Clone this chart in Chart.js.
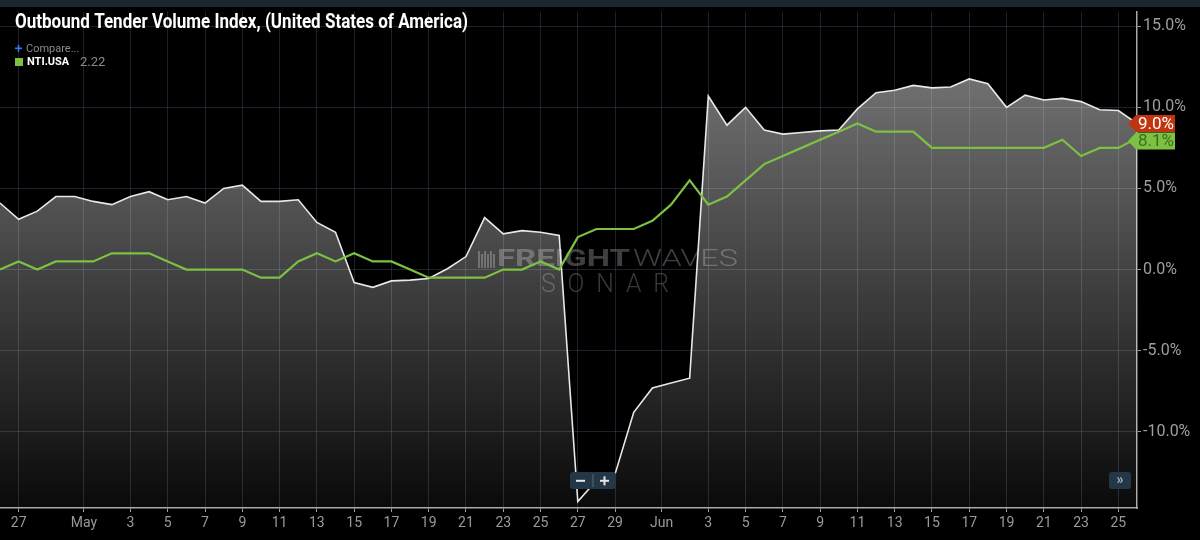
<!DOCTYPE html>
<html>
<head>
<meta charset="utf-8">
<script src="https://cdn.jsdelivr.net/npm/chart.js@4"></script>
<style>
  html, body { margin: 0; padding: 0; background: #000; }
  #wrap { width: 1200px; height: 540px; position: relative; }
</style>
</head>
<body>
<div id="wrap"><canvas id="otviChart"></canvas></div>
<script>
// Valeurs (un point par jour, du 26 avril au 26 juin)
const otviValues = [4.1, 3.1, 3.6, 4.5, 4.5, 4.2, 4.0, 4.5, 4.8, 4.3,
    4.5, 4.1, 5.0, 5.2, 4.2, 4.2, 4.3, 2.9, 2.3, -0.8,
    -1.1, -0.7, -0.65, -0.55, 0.05, 0.8, 3.2, 2.2, 2.4, 2.3,
    2.1, -14.3, -13.0, -12.6, -8.8, -7.3, -7.0, -6.7, 10.7, 8.9,
    10.0, 8.6, 8.35, 8.45, 8.55, 8.6, 9.9, 10.9, 11.05, 11.35,
    11.2, 11.25, 11.75, 11.45, 10.0, 10.75, 10.45, 10.55, 10.35, 9.85,
    9.8, 9.0];
const ntiValues = [0, 0.5, 0, 0.5, 0.5, 0.5, 1, 1, 1, 0.5,
    0, 0, 0, 0, -0.5, -0.5, 0.5, 1, 0.5, 1,
    0.5, 0.5, 0, -0.5, -0.5, -0.5, -0.5, 0, 0, 0.5,
    0, 2, 2.5, 2.5, 2.5, 3, 4, 5.5, 4, 4.5,
    5.5, 6.5, 7, 7.5, 8, 8.5, 9, 8.5, 8.5, 8.5,
    7.5, 7.5, 7.5, 7.5, 7.5, 7.5, 7.5, 8, 7, 7.5,
    7.5, 8.1];

// Graduations
const yTicks = [-10, -5, 0, 5, 10, 15];
const xTickPos = [1, 4.5, 7, 9, 11, 13, 15, 17, 19, 21, 23, 25, 27, 29, 31, 33,
    35.5, 38, 40, 42, 44, 46, 48, 50, 52, 54, 56, 58, 60];
const xTickLabels = ['27', 'May', '3', '5', '7', '9', '11', '13', '15', '17', '19', '21', '23', '25', '27', '29',
    'Jun', '3', '5', '7', '9', '11', '13', '15', '17', '19', '21', '23', '25'];

const chartTitle = 'Outbound Tender Volume Index, (United States of America)';
const legendName = 'NTI.USA';
const legendValue = '2.22';

const GREEN = '#7dc142';
const RED = '#c2330f';
const GRID = 'rgba(70,95,120,0.36)';

function toPoints(values) {
    return values.map((v, i) => ({ x: i, y: v }));
}

// texte étiré pour tenir dans une largeur donnée
function fitText(ctx, text, x, y, width) {
    const w = ctx.measureText(text).width;
    ctx.save();
    ctx.translate(x, y);
    ctx.scale(width / w, 1);
    ctx.fillText(text, 0, 0);
    ctx.restore();
}

// Fond, bandeau du haut, filigrane et habillage
const backdropPlugin = {
    id: 'backdrop',
    beforeDraw(chart) {
        const ctx = chart.ctx;
        ctx.save();
        ctx.fillStyle = '#000';
        ctx.fillRect(0, 0, chart.width, chart.height);
        ctx.fillStyle = '#1b2631';
        ctx.fillRect(0, 0, chart.width, 7);
        ctx.restore();
    },
    beforeDatasetsDraw(chart) {
        const ctx = chart.ctx;
        ctx.save();
        ctx.fillStyle = 'rgba(125,125,125,0.5)';
        // petit logo
        for (let i = 0; i < 6; i++) {
            ctx.fillRect(478 + i * 3, 251 + (i % 2) * 3, 2, 17 - (i % 2) * 3);
        }
        ctx.textBaseline = 'middle';
        ctx.textAlign = 'left';
        ctx.font = 'bold 23px Roboto';
        fitText(ctx, 'FREIGHT', 497, 260, 133);
        ctx.font = '300 23px Roboto';
        fitText(ctx, 'WAVES', 633, 260, 105);
        ctx.fillStyle = 'rgba(125,125,125,0.45)';
        ctx.font = '300 25px Roboto';
        ctx.letterSpacing = '12px';
        fitText(ctx, 'SONAR', 541, 286, 140);
        ctx.restore();
    },
    afterDraw(chart) {
        const ctx = chart.ctx;
        const y = chart.scales.y;
        ctx.save();

        // Titre
        ctx.fillStyle = '#fff';
        ctx.font = 'bold 21px Roboto';
        ctx.textBaseline = 'alphabetic';
        ctx.textAlign = 'left';
        fitText(ctx, chartTitle, 15, 28, 453);

        // Légende
        ctx.fillStyle = '#2f7fe6';
        ctx.fillRect(15, 47.5, 7, 1.6);
        ctx.fillRect(17.7, 44.8, 1.6, 7);
        ctx.fillStyle = '#8a8a8a';
        ctx.font = '11px Roboto';
        ctx.textBaseline = 'middle';
        ctx.fillText('Compare...', 26, 49);
        ctx.fillStyle = GREEN;
        ctx.fillRect(15, 58, 8, 8);
        ctx.fillStyle = '#fff';
        ctx.font = 'bold 11px Roboto';
        ctx.fillText(legendName, 27, 62.5);
        ctx.fillStyle = '#8a8a8a';
        ctx.font = '13px Roboto';
        ctx.fillText(legendValue, 80, 62.5);

        // Boutons de zoom
        ctx.fillStyle = '#233747';
        roundRect(ctx, 570, 472, 46, 17, 3);
        roundRect(ctx, 1109, 472, 22, 17, 3);
        ctx.fillStyle = 'rgba(255,255,255,0.25)';
        ctx.fillRect(592.5, 474, 1, 13);
        ctx.fillStyle = '#e6e6e6';
        ctx.fillRect(576, 479.8, 9, 2);
        ctx.fillRect(600, 479.8, 9, 2);
        ctx.fillRect(603.5, 476.3, 2, 9);
        ctx.fillStyle = '#a8b4bf';
        ctx.font = 'bold 14px Roboto';
        ctx.textAlign = 'center';
        ctx.fillText('\u00bb', 1120, 480);

        // Étiquettes de dernière valeur
        const lastOtvi = otviValues[otviValues.length - 1];
        const lastNti = ntiValues[ntiValues.length - 1];
        const ry = y.getPixelForValue(lastOtvi);
        const gy = Math.max(y.getPixelForValue(lastNti), ry + 17.5);
        drawTag(ctx, chart.chartArea.right, ry, RED, '#fff', lastOtvi.toFixed(1) + '%');
        drawTag(ctx, chart.chartArea.right, gy, GREEN, '#3f6d1f', lastNti.toFixed(1) + '%');
        ctx.restore();
    }
};

function roundRect(ctx, x, y, w, h, r) {
    ctx.beginPath();
    ctx.moveTo(x + r, y);
    ctx.arcTo(x + w, y, x + w, y + h, r);
    ctx.arcTo(x + w, y + h, x, y + h, r);
    ctx.arcTo(x, y + h, x, y, r);
    ctx.arcTo(x, y, x + w, y, r);
    ctx.closePath();
    ctx.fill();
}

function drawTag(ctx, x, cy, bg, fg, text) {
    const h = 17;
    ctx.fillStyle = bg;
    ctx.beginPath();
    ctx.moveTo(x - 9, cy);
    ctx.lineTo(x - 1, cy - h / 2);
    ctx.lineTo(x + 38, cy - h / 2);
    ctx.lineTo(x + 38, cy + h / 2);
    ctx.lineTo(x - 1, cy + h / 2);
    ctx.closePath();
    ctx.fill();
    ctx.fillStyle = fg;
    ctx.font = '17px Roboto';
    ctx.textAlign = 'left';
    ctx.textBaseline = 'middle';
    ctx.fillText(text, x + 1, cy + 1);
}

function areaGradient(context) {
    const area = context.chart.chartArea;
    if (!area) return 'rgba(255,255,255,0.3)';
    const g = context.chart.ctx.createLinearGradient(0, area.top, 0, area.bottom);
    g.addColorStop(0, 'rgba(255,255,255,0.50)');
    g.addColorStop(1, 'rgba(255,255,255,0.04)');
    return g;
}

const ctx = document.getElementById('otviChart').getContext('2d');
new Chart(ctx, {
    type: 'line',
    data: {
        datasets: [{
            label: legendName,
            data: toPoints(ntiValues),
            borderColor: GREEN,
            borderWidth: 2.2,
            pointRadius: 0,
            tension: 0,
            fill: false
        }, {
            label: 'OTVI.USA',
            data: toPoints(otviValues),
            borderColor: '#e8e8e8',
            borderWidth: 1.6,
            backgroundColor: areaGradient,
            pointRadius: 0,
            tension: 0,
            fill: 'start'
        }]
    },
    options: {
        responsive: true,
        maintainAspectRatio: false,
        animation: false,
        layout: { padding: { top: 7, left: 0, right: 0, bottom: 0 } },
        plugins: {
            legend: { display: false },
            tooltip: { enabled: false }
        },
        scales: {
            x: {
                type: 'linear',
                min: 0,
                max: 61,
                afterBuildTicks: scale => {
                    scale.ticks = xTickPos.map(v => ({ value: v }));
                },
                afterFit: scale => { scale.height = 32; },
                ticks: {
                    color: '#9a9a9a',
                    font: { family: 'Roboto', size: 14 },
                    padding: 3,
                    maxRotation: 0,
                    autoSkip: false,
                    callback: value => xTickLabels[xTickPos.indexOf(value)]
                },
                grid: {
                    color: GRID,
                    tickColor: '#9a9a9a',
                    tickLength: 4
                },
                border: { color: '#a8a8a8', width: 1.5 }
            },
            y: {
                position: 'right',
                min: -14.7,
                max: 15.9,
                afterBuildTicks: scale => {
                    scale.ticks = yTicks.map(v => ({ value: v }));
                },
                afterFit: scale => { scale.width = 63; },
                ticks: {
                    color: '#9e9e9e',
                    font: { family: 'Roboto', size: 16 },
                    padding: 2,
                    callback: value => value.toFixed(1) + '%'
                },
                grid: {
                    color: GRID,
                    tickColor: '#9a9a9a',
                    tickLength: 4
                },
                border: { color: '#a8a8a8', width: 1.5 }
            }
        }
    },
    plugins: [backdropPlugin]
});
</script>
</body>
</html>
